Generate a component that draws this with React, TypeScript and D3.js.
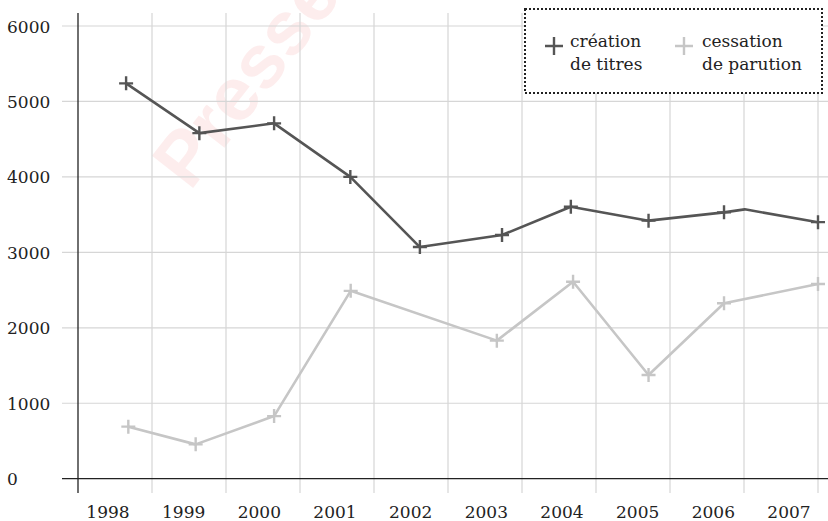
import React from "react";
import * as d3 from "d3";

// Data (x positions are dates in decimal years)
const years = [1998, 1999, 2000, 2001, 2002, 2003, 2004, 2005, 2006, 2007];
const yTicks = [0, 1000, 2000, 3000, 4000, 5000, 6000];

const creationDates = [1998.65, 1999.64, 2000.65, 2001.68, 2002.62, 2003.73, 2004.66, 2005.71, 2006.73, 2007.01, 2008.0];
const creationValues = [5240, 4580, 4710, 4000, 3070, 3230, 3605, 3420, 3530, 3570, 3400];
const creationMarked = [1, 1, 1, 1, 1, 1, 1, 1, 1, 0, 1];

const cessationDates = [1998.68, 1999.59, 2000.65, 2001.685, 2003.66, 2004.69, 2005.71, 2006.73, 2008.0];
const cessationValues = [690, 455, 830, 2490, 1830, 2610, 1375, 2325, 2580];
const cessationMarked = [1, 1, 1, 1, 1, 1, 1, 1, 1];

const seriesNames = [["création", "de titres"], ["cessation", "de parution"]];
const seriesColors = ["#555555", "#c6c6c6"];

const W = 828;
const H = 521;
const FONT = "'DejaVu Serif', serif";

export default function App() {
  const x = d3.scaleLinear().domain([1998, 2008]).range([78, 818]);
  const y = d3.scaleLinear().domain([0, 6000]).range([478.7, 26]);
  const xLabel = d3.scalePoint<number>().domain(years).range([108, 789]);

  const line = d3
    .line<[number, number]>()
    .x((d) => x(d[0]))
    .y((d) => y(d[1]));

  const series = [
    { dates: creationDates, values: creationValues, marked: creationMarked, color: seriesColors[0] },
    { dates: cessationDates, values: cessationValues, marked: cessationMarked, color: seriesColors[1] },
  ];

  const plus = (cx: number, cy: number, r: number, color: string, key: string, sw = 2.2) => (
    <path
      key={key}
      d={`M${cx - r},${cy}H${cx + r}M${cx},${cy - r}V${cy + r}`}
      stroke={color}
      strokeWidth={sw}
      fill="none"
    />
  );

  const gridYears = d3.range(1998, 2009);

  return (
    <svg
      width={W}
      height={H}
      style={{ position: "absolute", left: 0, top: 0, background: "#fff" }}
      fontFamily={FONT}
    >
      <rect width={W} height={H} fill="#fff" />
      {/* watermark */}
      <text
        transform="translate(190,192) rotate(-52)"
        fontFamily="'Liberation Sans', Arial, sans-serif"
        fontWeight="bold"
        fontSize={76}
        fill="#e00000"
        fillOpacity={0.07}
      >
        Presse
      </text>
      {/* horizontal grid */}
      {yTicks
        .filter((t) => t !== 0)
        .map((t) => (
          <line key={"h" + t} x1={62} x2={W} y1={y(t)} y2={y(t)} stroke="#d6d6d6" strokeWidth={1.2} />
        ))}
      {/* vertical grid */}
      {gridYears.slice(1).map((g) => (
        <line key={"v" + g} x1={x(g)} x2={x(g)} y1={13} y2={493} stroke="#d6d6d6" strokeWidth={1.2} />
      ))}
      {/* axes */}
      <line x1={62} x2={W} y1={y(0)} y2={y(0)} stroke="#222" strokeWidth={1.3} />
      <line x1={x(1998)} x2={x(1998)} y1={13} y2={493} stroke="#222" strokeWidth={1.3} />
      {/* y labels */}
      {yTicks.map((t) => (
        <text key={"yl" + t} x={7} y={y(t) + 6.5} fontSize={17} fill="#222">
          {t}
        </text>
      ))}
      {/* x labels */}
      {years.map((yr) => (
        <text key={"xl" + yr} x={xLabel(yr)} y={518} fontSize={17} fill="#222" textAnchor="middle">
          {yr}
        </text>
      ))}
      {/* series */}
      {series.map((s, si) => {
        const pts: [number, number][] = s.dates.map((d, i) => [d, s.values[i]]);
        return (
          <g key={"s" + si}>
            <path d={line(pts) || ""} fill="none" stroke={s.color} strokeWidth={2.6} strokeLinejoin="round" />
            {pts.map((p, i) =>
              s.marked[i] ? plus(x(p[0]), y(p[1]), 7, s.color, "m" + si + "-" + i, 2.4) : null
            )}
          </g>
        );
      })}
      {/* legend */}
      <rect x={525} y={9} width={297} height={84} fill="#fff" stroke="#222" strokeWidth={2} strokeDasharray="2,2" />
      {seriesNames.map((names, i) => {
        const mx = i === 0 ? 554 : 684;
        const tx = i === 0 ? 570 : 702;
        return (
          <g key={"lg" + i}>
            {plus(mx, 46, 9, seriesColors[i], "lm" + i, 2.4)}
            <text x={tx} y={47} fontSize={17} fill="#222">
              {names[0]}
            </text>
            <text x={tx} y={70} fontSize={17} fill="#222">
              {names[1]}
            </text>
          </g>
        );
      })}
    </svg>
  );
}
